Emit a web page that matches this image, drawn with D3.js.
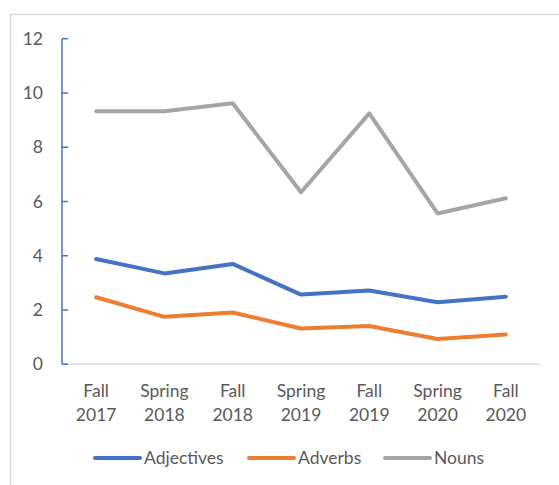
<!DOCTYPE html>
<html>
<head>
<meta charset="utf-8">
<script src="https://cdn.jsdelivr.net/npm/d3@7"></script>
<style>
body { margin: 0; background: #fff; }
text { font-family: Lato, "Open Sans", sans-serif; fill: #595959; }
</style>
</head>
<body>
<div id="chart"></div>
<script>
// terms and counts per series
var terms = ["Fall 2017","Spring 2018","Fall 2018","Spring 2019","Fall 2019","Spring 2020","Fall 2020"];
var adjectives = [3.88,3.35,3.70,2.57,2.72,2.29,2.49];
var adverbs = [2.47,1.75,1.91,1.32,1.41,0.93,1.10];
var nouns = [9.33,9.33,9.62,6.34,9.25,5.56,6.12];
var yTicks = [0,2,4,6,8,10,12];

var series = [
	{name:"Adjectives", values:adjectives, color:"#4472C4"},
	{name:"Adverbs", values:adverbs, color:"#ED7D31"},
	{name:"Nouns", values:nouns, color:"#A5A5A5"}
];

var W = 559, H = 485;
var fs = "17.5px";
var svg = d3.select("#chart").append("svg")
	.attr("width", W)
	.attr("height", H);

// outer frame (only left and top visible)
svg.append("path")
	.attr("d","M10.5,485 L10.5,14.5 L559,14.5")
	.attr("fill","none")
	.attr("stroke","#d9d9d9")
	.attr("stroke-width",1.5);

var x = d3.scaleBand().domain(terms).range([62, 540]);
var y = d3.scaleLinear().domain([0,12]).range([364.3, 38.7]);

// x axis line
svg.append("line")
	.attr("x1",62).attr("x2",540)
	.attr("y1",y(0)).attr("y2",y(0))
	.attr("stroke","#d9d9d9").attr("stroke-width",1.5);

// y axis (blue, ticks inward)
var yAxis = svg.append("g").attr("transform","translate(62,0)");
yAxis.append("line")
	.attr("x1",0).attr("x2",0)
	.attr("y1",y(12)).attr("y2",y(0))
	.attr("stroke","#4472C4").attr("stroke-width",1.5);
yAxis.selectAll("line.tick")
	.data(yTicks)
	.enter().append("line")
		.attr("class","tick")
		.attr("x1",0).attr("x2",6)
		.attr("y1",function(d){ return y(d); })
		.attr("y2",function(d){ return y(d); })
		.attr("stroke","#4472C4").attr("stroke-width",1.5);
svg.selectAll("text.ylab")
	.data(yTicks)
	.enter().append("text")
		.attr("class","ylab")
		.attr("x",43)
		.attr("y",function(d){ return y(d) + 6; })
		.attr("text-anchor","end")
		.attr("font-size",fs)
		.text(function(d){ return d; });

// x labels on two lines
var xl = svg.selectAll("text.xlab")
	.data(terms)
	.enter().append("text")
		.attr("class","xlab")
		.attr("text-anchor","middle")
		.attr("font-size",fs);
xl.append("tspan")
	.attr("x",function(d){ return x(d) + x.bandwidth()/2; })
	.attr("y",397)
	.text(function(d){ return d.split(" ")[0]; });
xl.append("tspan")
	.attr("x",function(d){ return x(d) + x.bandwidth()/2; })
	.attr("y",421)
	.text(function(d){ return d.split(" ")[1]; });

var line = d3.line()
	.x(function(d,i){ return x(terms[i]) + x.bandwidth()/2; })
	.y(function(d){ return y(d); });

svg.selectAll("path.series")
	.data(series)
	.enter().append("path")
		.attr("class","series")
		.attr("d",function(s){ return line(s.values); })
		.attr("fill","none")
		.attr("stroke",function(s){ return s.color; })
		.attr("stroke-width",4)
		.attr("stroke-linecap","round")
		.attr("stroke-linejoin","round");

// legend
var legX = [95, 249, 385];
var leg = svg.selectAll("g.leg")
	.data(series)
	.enter().append("g")
		.attr("class","leg")
		.attr("transform",function(s,i){ return "translate(" + legX[i] + ",458)"; });
leg.append("line")
	.attr("x1",0).attr("x2",45)
	.attr("y1",0).attr("y2",0)
	.attr("stroke",function(s){ return s.color; })
	.attr("stroke-width",4)
	.attr("stroke-linecap","round");
leg.append("text")
	.attr("x",49)
	.attr("y",6)
	.attr("font-size",fs)
	.text(function(s){ return s.name; });
</script>
</body>
</html>
